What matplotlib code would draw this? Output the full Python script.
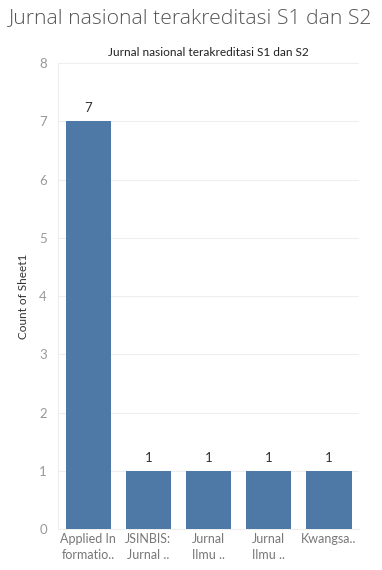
import matplotlib.pyplot as plt
import numpy as np

journals = ['Applied In\nformatio..', 'JSINBIS:\nJurnal ..', 'Jurnal\nIlmu ..', 'Jurnal\nIlmu ..', 'Kwangsa..']
counts = [7, 1, 1, 1, 1]
yticks = [0, 1, 2, 3, 4, 5, 6, 7, 8]

plt.rcParams['font.family'] = ['Lato', 'DejaVu Sans']

fig = plt.figure(figsize=(3.82, 5.7), dpi=100)
ax = fig.add_axes([0.152, 0.072, 0.788, 0.817])

x = np.arange(len(journals))
ax.bar(x, counts, width=0.75, color='#4e79a7', zorder=3)
for xi, c in zip(x, counts):
    ax.text(xi, c + 0.12, str(c), ha='center', va='bottom', fontsize=9.5, color='#333333')

ax.set_xlim(-0.5, 4.5)
ax.set_ylim(0, 8)
ax.set_yticks(yticks)
ax.set_xticks(x)
ax.set_xticklabels(journals, fontsize=9, color='#777777', linespacing=1.4)
ax.tick_params(axis='y', length=0, labelsize=9.5, labelcolor='#999999', pad=8)
ax.tick_params(axis='x', length=0, pad=3)
ax.grid(axis='y', color='#eeeeee', linewidth=0.8, zorder=0)
for s in ['top', 'right']:
    ax.spines[s].set_visible(False)
ax.spines['left'].set_color('#eeeeee')
ax.spines['bottom'].set_color('#eeeeee')
ax.set_ylabel('Count of Sheet1', fontsize=8.5, color='#333333', labelpad=7)

fig.text(0.5, 0.968, 'Jurnal nasional terakreditasi S1 dan S2', ha='center', va='center',
         fontsize=15.2, color='#555555', family=['Open Sans', 'DejaVu Sans'], fontweight='light')
fig.text(0.546, 0.908, 'Jurnal nasional terakreditasi S1 dan S2', ha='center', va='center',
         fontsize=8.6, color='#222222')

fig.savefig('out.png', dpi=100)
